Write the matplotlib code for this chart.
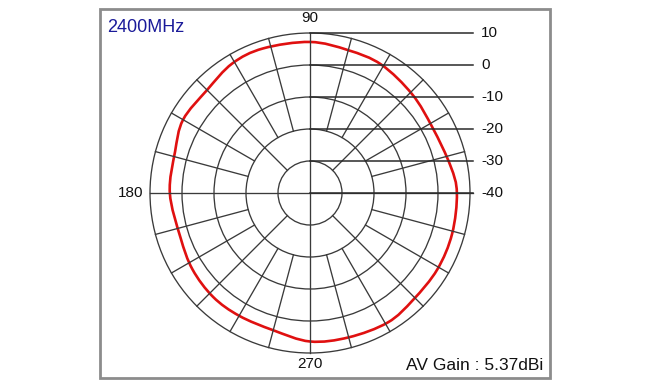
import numpy as np
import matplotlib
matplotlib.use("Agg")
import matplotlib.pyplot as plt
from matplotlib.patches import Circle, Rectangle, PathPatch
from matplotlib.path import Path

# pattern: angle (deg) -> gain (dB)
angles = [0, 11, 28, 44, 61, 75, 90, 108, 121, 135, 150, 163,
          180, 199, 213, 227, 240, 255, 270, 285, 301, 314, 329, 344]
gains = [5.9, 4.7, 3.4, 4.4, 5.9, 6.2, 7.2, 7.5, 7.2, 5.5, 5.8, 4.1,
         3.8, 2.8, 3.8, 4.4, 4.3, 4.4, 6.4, 6.7, 7.2, 6.4, 6.4, 6.2]

r_min = -40
r_max = 10
ring_levels = [-30, -20, -10, 0, 10]
scale_levels = [10, 0, -10, -20, -30, -40]
spoke_angles = [a for a in range(0, 360, 15) if a % 90 != 0]
axis_labels = ["90", "180", "270"]
freq_label = "2400MHz"
gain_label = "AV Gain : 5.37dBi"

grid_col = "#3a3a3a"
lab_font = ["Liberation Sans Narrow", "Liberation Sans"]

fig = plt.figure(figsize=(6.5, 3.9), dpi=100)
ax = fig.add_axes([0, 0, 1, 1])
# 3.2 px per dB, centre of the chart at pixel (310, 193)
ax.set_xlim(-310 / 3.2, 340 / 3.2)
ax.set_ylim(-197 / 3.2, 193 / 3.2)
ax.axis("off")

R = r_max - r_min

# rings
for lv in ring_levels:
    ax.add_patch(Circle((0, 0), lv - r_min, fill=False, ec=grid_col, lw=0.95))

# spokes, diagonals start on the inner ring
for a in spoke_angles:
    r0 = (-30 if a % 45 == 0 else -20) - r_min
    t = np.deg2rad(a)
    ax.plot([r0 * np.cos(t), R * np.cos(t)], [r0 * np.sin(t), R * np.sin(t)],
            color=grid_col, lw=0.95)

# main axes
ax.plot([0, 0], [-R, R], color=grid_col, lw=0.95)
ax.plot([-R, R + 1], [0, 0], color=grid_col, lw=0.95)

# scale lines to the right with labels
for lv in scale_levels:
    y = lv - r_min
    ax.plot([0, R + 1], [y, y], color="#2a2a2a", lw=1.1)
    ax.text(R + 3.4, y, str(lv), ha="left", va="center",
            fontsize=11, family=lab_font, color="#111111")

ax.text(0, R + 4.7, axis_labels[0], ha="center", va="center",
        fontsize=11, family=lab_font, color="#111111")
ax.text(-R - 2.2, 0, axis_labels[1], ha="right", va="center",
        fontsize=11, family=lab_font, color="#111111")
ax.text(0, -R - 3.4, axis_labels[2], ha="center", va="center",
        fontsize=11, family=lab_font, color="#111111")

# radiation pattern, smooth closed curve through the read points
th = np.deg2rad(angles)
rr = np.array(gains) - r_min
pts = np.column_stack([rr * np.cos(th), rr * np.sin(th)])
n = len(pts)
verts = [pts[0]]
codes = [Path.MOVETO]
for i in range(n):
    p0, p1 = pts[i - 1], pts[i]
    p2, p3 = pts[(i + 1) % n], pts[(i + 2) % n]
    verts += [p1 + (p2 - p0) / 6, p2 - (p3 - p1) / 6, p2]
    codes += [Path.CURVE4] * 3
ax.add_patch(PathPatch(Path(verts, codes), fill=False, ec="#e01010",
                       lw=1.9))

# frame and texts
fig.patches.append(Rectangle((100 / 650, 12 / 390), 450 / 650, 369 / 390,
                             transform=fig.transFigure, fill=False,
                             ec="#8c8c8c", lw=2))
fig.text(107 / 650, 1 - 28 / 390, freq_label, ha="left", va="center",
         fontsize=13, family="Liberation Sans", color="#1a1a99")
fig.text(543 / 650, 1 - 365 / 390, gain_label, ha="right", va="center",
         fontsize=12.5, family="Liberation Sans", color="#111111")

fig.savefig("out.png", dpi=100)
